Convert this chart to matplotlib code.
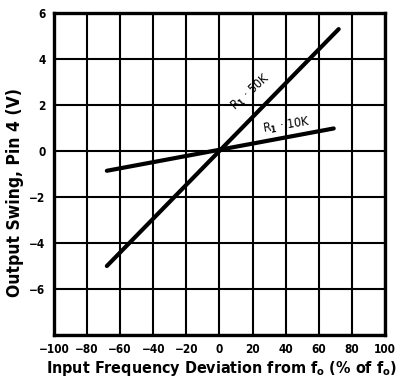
import matplotlib
matplotlib.use("Agg")
import matplotlib.pyplot as plt

# Output swing vs input frequency deviation
freq_50k = [-68, 72]
swing_50k = [-5.0, 5.3]
freq_10k = [-68, 69]
swing_10k = [-0.86, 0.98]

x_ticks = [-100, -80, -60, -40, -20, 0, 20, 40, 60, 80, 100]
y_ticks = [-8, -6, -4, -2, 0, 2, 4, 6]
y_labels = ["", "\u22126", "\u22124", "\u22122", "0", "2", "4", "6"]
x_labels = ["\u2212100", "\u221280", "\u221260", "\u221240", "\u221220", "0", "20", "40", "60", "80", "100"]

plt.rcParams["font.family"] = ["DejaVu Sans"]
plt.rcParams["font.stretch"] = "condensed"
plt.rcParams["mathtext.fontset"] = "custom"
plt.rcParams["mathtext.rm"] = "DejaVu Sans:bold"
plt.rcParams["mathtext.bf"] = "DejaVu Sans:bold"
plt.rcParams["mathtext.it"] = "DejaVu Sans"

fig = plt.figure(figsize=(3.99, 3.82), dpi=100)
ax = fig.add_axes([0.135, 0.123, 0.830, 0.843])

ax.set_xlim(-100, 100)
ax.set_ylim(-8, 6)
ax.set_xticks(x_ticks)
ax.set_xticklabels(x_labels, fontweight="bold")
ax.set_yticks(y_ticks)
ax.set_yticklabels(y_labels, fontweight="bold")
ax.tick_params(length=0, labelsize=8.5, pad=6)
ax.grid(True, color="black", lw=1.5)
for s in ax.spines.values():
    s.set_linewidth(2.4)

ax.plot(freq_50k, swing_50k, color="black", lw=3, solid_capstyle="round")
ax.plot(freq_10k, swing_10k, color="black", lw=3, solid_capstyle="round")

# curve labels
ax.text(19, 2.55, "R$_1$ \u00b7 50K", rotation=42,
        ha="center", va="center", fontsize=9)
ax.text(40.5, 1.1, "R$_1$ \u00b7 10K", rotation=9,
        ha="center", va="center", fontsize=9)

fig.text(0.555, 0.036, r"Input Frequency Deviation from f$_\mathbf{o}$ (% of f$_\mathbf{o}$)",
         ha="center", va="center", fontsize=11.5, fontweight="bold")
fig.text(0.038, 0.497, "Output Swing, Pin 4 (V)", rotation=90,
         ha="center", va="center", fontsize=12.5, fontweight="bold")

fig.savefig("out.png", dpi=100)
